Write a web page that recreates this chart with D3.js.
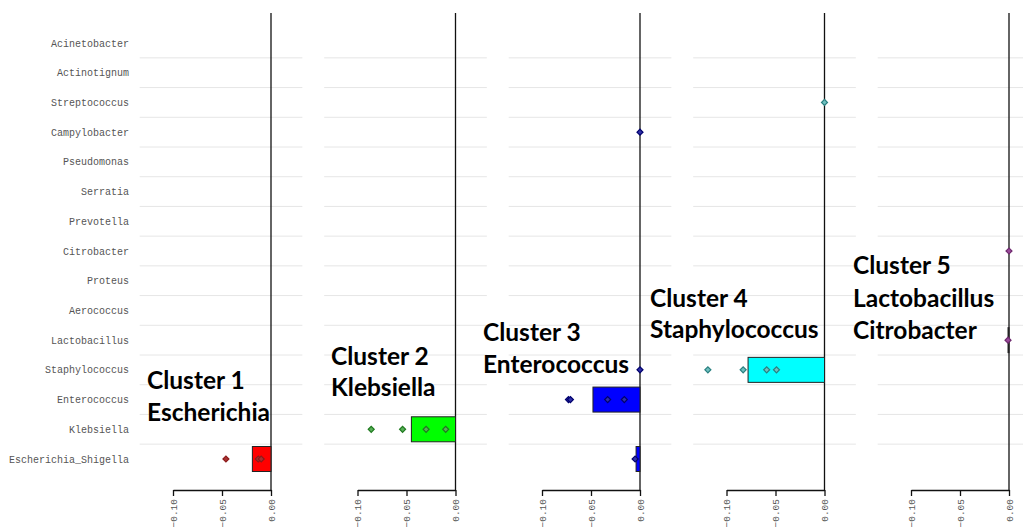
<!DOCTYPE html>
<html>
<head>
<meta charset="utf-8">
<script src="https://cdn.jsdelivr.net/npm/d3@7"></script>
<style>
  html, body { margin: 0; padding: 0; background: #fff; }
  svg { display: block; }
</style>
</head>
<body>
<svg id="chart" width="1023" height="531"></svg>
<script>
// Genera, top to bottom
const genera = [
  "Acinetobacter", "Actinotignum", "Streptococcus", "Campylobacter",
  "Pseudomonas", "Serratia", "Prevotella", "Citrobacter", "Proteus",
  "Aerococcus", "Lactobacillus", "Staphylococcus", "Enterococcus",
  "Klebsiella", "Escherichia_Shigella"
];

// Panel titles
const clusterTitles = [
  ["Cluster 1", "Escherichia"],
  ["Cluster 2", "Klebsiella"],
  ["Cluster 3", "Enterococcus"],
  ["Cluster 4", "Staphylococcus"],
  ["Cluster 5", "Lactobacillus", "Citrobacter"]
];

const boxFill = ["#ff0000", "#00ff00", "#0000ff", "#00ffff", "#a020f0"];
const pointStroke = ["#8b1a1a", "#1f7a1f", "#00006e", "#2a8080", "#6e2a6e"];
const pointFill = ["#a83232", "#58b058", "#3030a8", "#70c0c0", "#9a4a9a"];

const xTicks = [-0.10, -0.05, 0.00];

// Boxes: genus, lower and upper edge
const cluster1Boxes = [{ genus: "Escherichia_Shigella", lo: -0.019, hi: 0 }];
const cluster2Boxes = [{ genus: "Klebsiella", lo: -0.045, hi: 0 }];
const cluster3Boxes = [
  { genus: "Enterococcus", lo: -0.048, hi: 0 },
  { genus: "Escherichia_Shigella", lo: -0.004, hi: 0 }
];
const cluster4Boxes = [{ genus: "Staphylococcus", lo: -0.078, hi: 0 }];
const cluster5Boxes = [{ genus: "Lactobacillus", lo: -0.001, hi: 0 }];

// Individual values
const cluster1Points = [
  { genus: "Escherichia_Shigella", v: -0.046 },
  { genus: "Escherichia_Shigella", v: -0.013 },
  { genus: "Escherichia_Shigella", v: -0.010 }
];
const cluster2Points = [
  { genus: "Klebsiella", v: -0.086 },
  { genus: "Klebsiella", v: -0.054 },
  { genus: "Klebsiella", v: -0.030 },
  { genus: "Klebsiella", v: -0.010 }
];
const cluster3Points = [
  { genus: "Campylobacter", v: 0.000 },
  { genus: "Staphylococcus", v: 0.000 },
  { genus: "Enterococcus", v: -0.073 },
  { genus: "Enterococcus", v: -0.071 },
  { genus: "Enterococcus", v: -0.033 },
  { genus: "Enterococcus", v: -0.016 },
  { genus: "Escherichia_Shigella", v: -0.005 }
];
const cluster4Points = [
  { genus: "Streptococcus", v: 0.000 },
  { genus: "Staphylococcus", v: -0.119 },
  { genus: "Staphylococcus", v: -0.083 },
  { genus: "Staphylococcus", v: -0.059 },
  { genus: "Staphylococcus", v: -0.049 }
];
const cluster5Points = [
  { genus: "Citrobacter", v: 0.000 },
  { genus: "Lactobacillus", v: -0.001 }
];

const titleBaselines = [
  [389, 421],
  [365, 396],
  [341, 373],
  [307, 338],
  [274, 307, 339]
];
const titleX = [147, 331, 483, 650, 853];

const boxes = [cluster1Boxes, cluster2Boxes, cluster3Boxes, cluster4Boxes, cluster5Boxes];
const points = [cluster1Points, cluster2Points, cluster3Points, cluster4Points, cluster5Points];

const svg = d3.select("#chart");

const y = d3.scalePoint().domain(genera).range([43, 459]);
const step = y.step();
const boxH = 25;

// Genus labels
svg.append("g")
  .selectAll("text")
  .data(genera)
  .join("text")
  .attr("x", 129)
  .attr("y", d => y(d))
  .attr("dy", "0.35em")
  .attr("text-anchor", "end")
  .attr("font-family", "'Liberation Mono', 'DejaVu Sans Mono', monospace")
  .attr("font-size", 10)
  .attr("fill", "#555")
  .text(d => d);

const panelSpacing = 184.5;
const firstZero = 271;
const axisY = 490;

// small diamond marker: a square turned 45 degrees
const marker = d3.symbol().type(d3.symbolSquare).size(18);

clusterTitles.forEach((title, i) => {
  const zero = firstZero + panelSpacing * i;
  const x = d3.scaleLinear().domain([-0.10, 0]).range([zero - 98, zero]);
  const g = svg.append("g");

  // horizontal separators between rows
  const seps = genera.slice(0, -1).map(d => y(d) + step / 2);
  g.selectAll("line.grid")
    .data(seps)
    .join("line")
    .attr("class", "grid")
    .attr("x1", x(-0.134))
    .attr("x2", x(0.032))
    .attr("y1", d => d)
    .attr("y2", d => d)
    .attr("stroke", "#e6e6e6")
    .attr("stroke-width", 1);

  // titles
  const t = g.append("text")
    .attr("font-family", "Lato, 'Open Sans', sans-serif")
    .attr("font-weight", 700)
    .attr("font-size", 24.5)
    .attr("fill", "#000");
  title.forEach((line, k) => {
    t.append("tspan")
      .attr("x", titleX[i])
      .attr("y", titleBaselines[i][k])
      .text(line);
  });

  // zero line
  g.append("line")
    .attr("x1", x(0)).attr("x2", x(0))
    .attr("y1", 13).attr("y2", axisY)
    .attr("stroke", "#111")
    .attr("stroke-width", 1.3);

  // boxes
  g.selectAll("rect.box")
    .data(boxes[i])
    .join("rect")
    .attr("class", "box")
    .attr("x", d => x(d.lo))
    .attr("width", d => Math.max(x(d.hi) - x(d.lo), 1))
    .attr("y", d => y(d.genus) - boxH / 2)
    .attr("height", boxH)
    .attr("fill", boxFill[i])
    .attr("stroke", "#222")
    .attr("stroke-width", 1);

  // value points
  g.selectAll("path.pt")
    .data(points[i])
    .join("path")
    .attr("class", "pt")
    .attr("d", marker)
    .attr("transform", d => `translate(${x(d.v)},${y(d.genus)}) rotate(45)`)
    .attr("fill", pointFill[i])
    .attr("stroke", pointStroke[i])
    .attr("stroke-width", 1.2);

  // x axis
  const axis = d3.axisBottom(x).tickValues(xTicks).tickSize(6).tickSizeOuter(0)
    .tickFormat(d3.format(".2f"));
  const ag = g.append("g")
    .attr("transform", `translate(0,${axisY})`)
    .call(axis);
  ag.select(".domain").attr("stroke", "#111").attr("stroke-width", 1.3);
  ag.selectAll(".tick line").attr("stroke", "#111").attr("stroke-width", 1.3);
  ag.selectAll(".tick text")
    .attr("font-family", "'Liberation Mono', 'DejaVu Sans Mono', monospace")
    .attr("font-size", 9.5)
    .attr("fill", "#555")
    .attr("text-anchor", "end")
    .attr("transform", "rotate(-90)")
    .attr("x", -9)
    .attr("y", 0)
    .attr("dy", "0.35em");
});
</script>
</body>
</html>
